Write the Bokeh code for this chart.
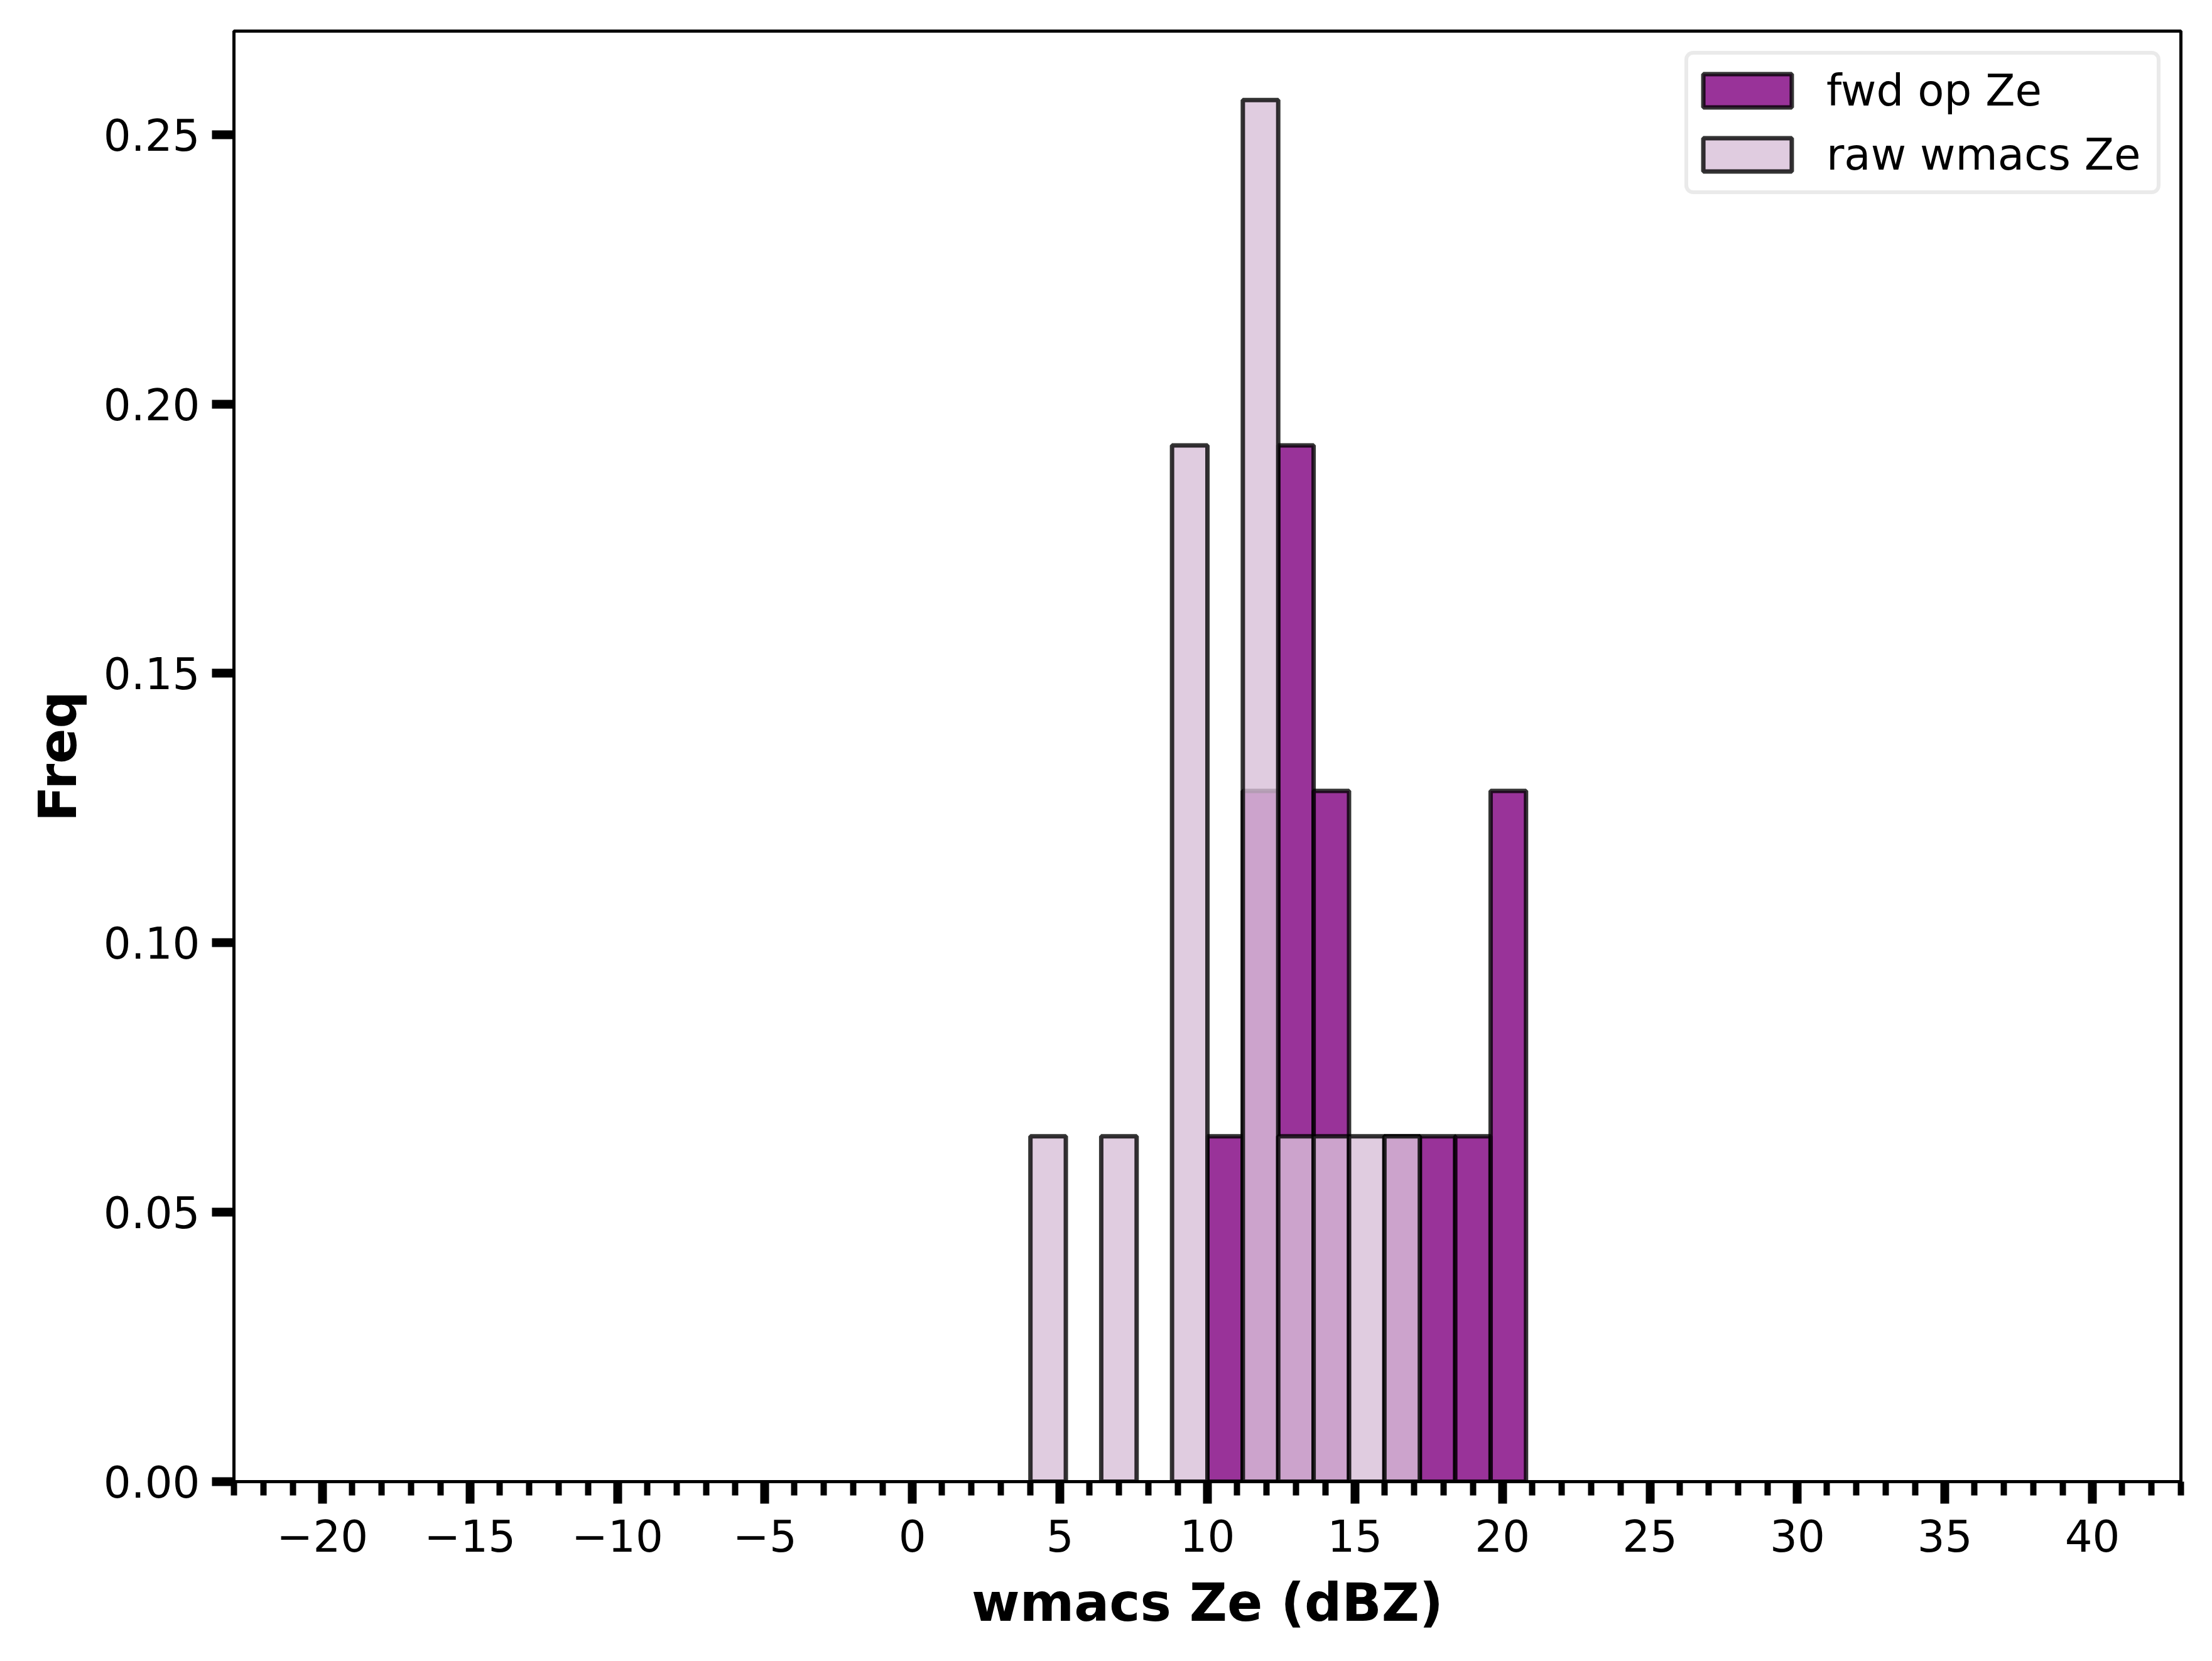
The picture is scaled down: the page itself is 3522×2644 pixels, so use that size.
from bokeh.plotting import figure
from bokeh.models import FixedTicker, Legend, LegendItem, Range1d
from bokeh.embed import file_html
from bokeh.resources import INLINE

# ---- data ----
bin_edges = [4.0, 5.2, 6.4, 7.6, 8.8, 10.0, 11.2, 12.4, 13.6, 14.8, 16.0, 17.2, 18.4, 19.6, 20.8]
fwd_freq = [0.0, 0.0, 0.0, 0.0, 0.0, 0.0641, 0.1282, 0.1923, 0.1282, 0.0, 0.0641, 0.0641, 0.0641, 0.1282]
raw_freq = [0.0641, 0.0, 0.0641, 0.0, 0.1923, 0.0, 0.2564, 0.0641, 0.0641, 0.0641, 0.0641, 0.0, 0.0, 0.0]
x_ticks = [-20, -15, -10, -5, 0, 5, 10, 15, 20, 25, 30, 35, 40]
y_ticks = [0.0, 0.05, 0.10, 0.15, 0.20, 0.25]
series_labels = ["fwd op Ze", "raw wmacs Ze"]
x_label = "wmacs Ze (dBZ)"
y_label = "Freq"

FONT = "DejaVu Sans"

p = figure(width=3506, height=2628, output_backend="svg", toolbar_location=None,
           x_range=Range1d(-23.0, 43.0), y_range=Range1d(0.0, 0.2692),
           min_border_left=372, min_border_right=34, min_border_top=49, min_border_bottom=270)
p.xgrid.visible = False
p.ygrid.visible = False
p.outline_line_color = "black"
p.outline_line_width = 5
p.background_fill_color = "white"
p.border_fill_color = "white"


def bars(freq):
    l, r, t = [], [], []
    for i, v in enumerate(freq):
        if v > 0:
            l.append(bin_edges[i]); r.append(bin_edges[i + 1]); t.append(v)
    return dict(left=l, right=r, top=t, bottom=[0.0] * len(t))

r_fwd = p.quad(**bars(fwd_freq), fill_color="#800080", fill_alpha=0.8,
               line_color="black", line_alpha=0.8, line_width=7)
r_raw = p.quad(**bars(raw_freq), fill_color="#D8BFD8", fill_alpha=0.8,
               line_color="black", line_alpha=0.8, line_width=7)

# axes
xa = p.xaxis[0]
xa.ticker = FixedTicker(ticks=x_ticks, minor_ticks=list(range(-23, 44)))
xa.major_label_overrides = {t: (str(t).replace("-", "\u2212")) for t in x_ticks}
ya = p.yaxis[0]
ya.ticker = FixedTicker(ticks=y_ticks)
ya.major_label_overrides = {t: "%.2f" % t for t in y_ticks}
ya.minor_tick_line_color = None

for ax in (xa, ya):
    ax.axis_line_color = "black"
    ax.axis_line_width = 5
    ax.major_tick_line_color = "black"
    ax.major_tick_line_width = 14
    ax.major_tick_out = 35
    ax.major_tick_in = 0
    ax.minor_tick_line_width = 10
    ax.minor_tick_out = 22
    ax.minor_tick_in = 0
    ax.major_label_text_font = FONT
    ax.major_label_text_font_size = "69px"
    ax.major_label_text_color = "black"
    ax.axis_label_text_font = FONT
    ax.axis_label_text_font_size = "83px"
    ax.axis_label_text_font_style = "bold"
    ax.axis_label_text_color = "black"

xa.minor_tick_line_color = "black"
xa.axis_label = x_label
ya.axis_label = y_label
xa.major_label_standoff = 25
ya.major_label_standoff = 19
xa.axis_label_standoff = 30
ya.axis_label_standoff = 21

legend = Legend(items=[LegendItem(label=series_labels[0], renderers=[r_fwd]),
                       LegendItem(label=series_labels[1], renderers=[r_raw])],
                location="top_right", margin=32, padding=6, spacing=0,
                glyph_width=176, glyph_height=66, label_standoff=38,
                label_height=102, label_width=520,
                label_text_font=FONT, label_text_font_size="69px",
                label_text_color="black",
                border_line_color="#d6d6d6", border_line_width=6,
                background_fill_color="white", background_fill_alpha=1.0)
if "border_radius" in Legend.properties():
    legend.border_radius = 14
p.add_layout(legend)

open("out.html", "w").write(file_html(p, INLINE))
